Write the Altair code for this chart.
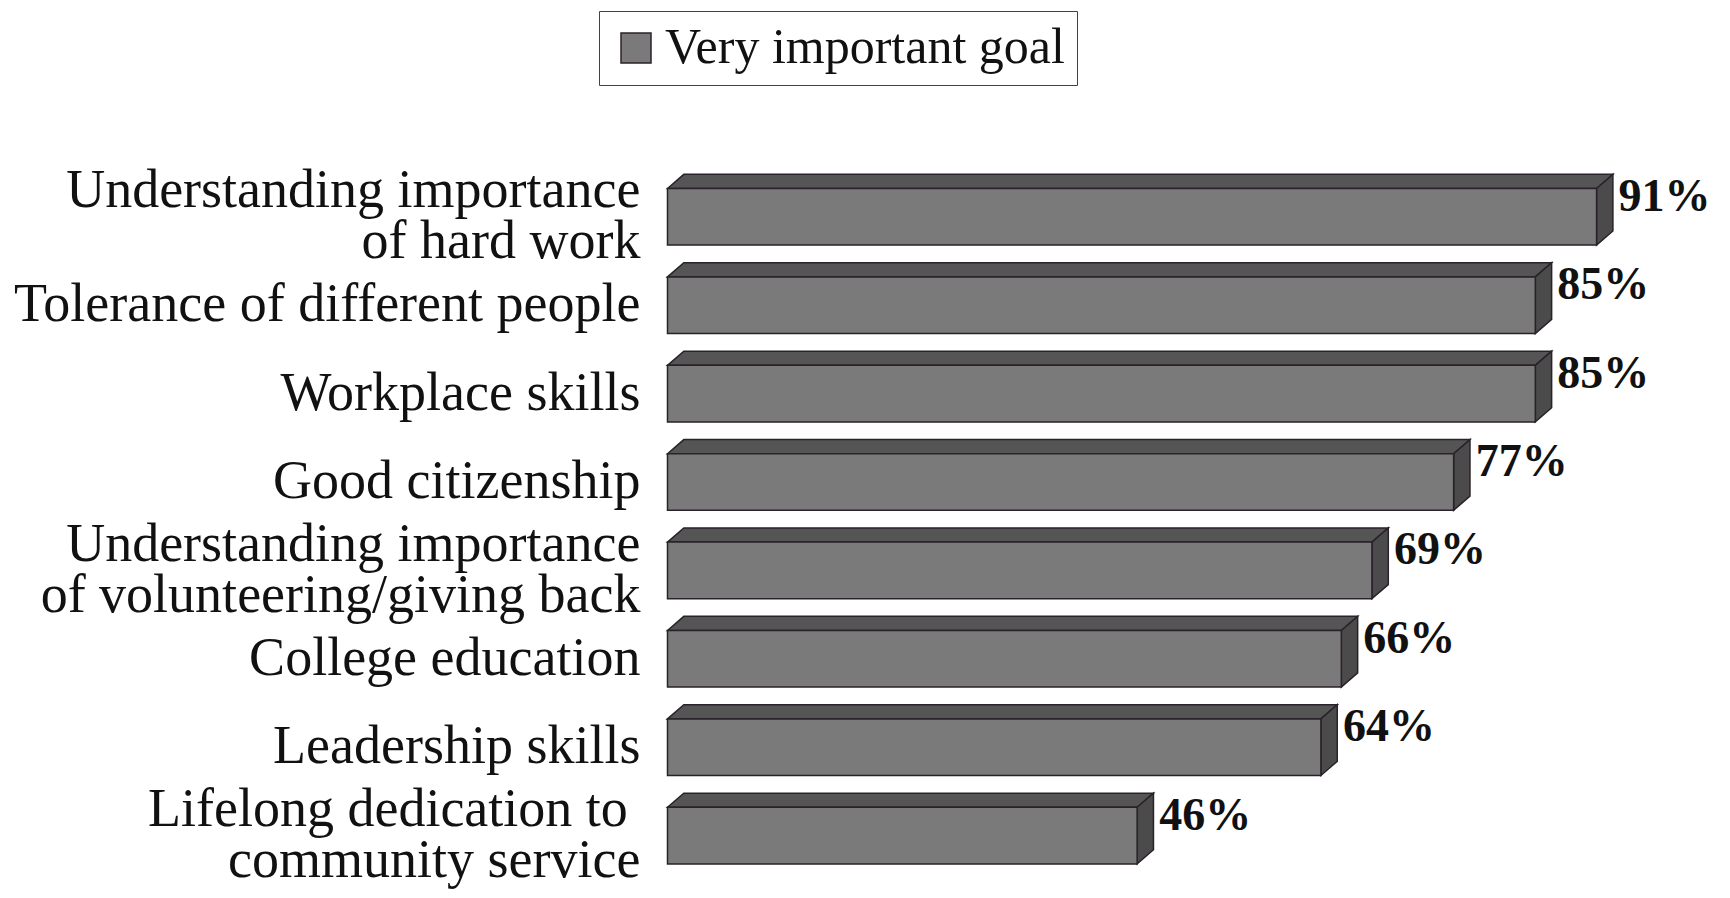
import altair as alt
import pandas as pd

categories = [
    "Understanding importance\nof hard work",
    "Tolerance of different people",
    "Workplace skills",
    "Good citizenship",
    "Understanding importance\nof volunteering/giving back",
    "College education",
    "Leadership skills",
    "Lifelong dedication to  \ncommunity service",
]
values = [91, 85, 85, 77, 69, 66, 64, 46]
series_name = "Very important goal"

# style constants (depth of the 3D effect in scale units)
H = 0.32     # half bar thickness (row units)
DX = 1.6     # depth in x (percent units)
DY = 0.16    # depth in y (row units)
LS = 0.58    # label line spacing (row units)
SPACE_W = 0.62  # width of a trailing space (percent units)

FONT = "Liberation Serif"
FRONT = "#7a7a7a"
TOP = "#555555"
SIDE = "#4b4b4b"
EDGE = "#2a222a"

df = pd.DataFrame({
    "category": categories,
    "value": values,
    "row": list(range(len(values))),
    "series": [series_name] * len(values),
})

label_rows = []
for r, c in enumerate(categories):
    lines = c.split("\n")
    n = len(lines)
    for j, line in enumerate(lines):
        trail = len(line) - len(line.rstrip(" "))
        label_rows.append({"row": r, "line": line.rstrip(" "), "trail": trail,
                           "off": (j - (n - 1) / 2) * LS})
label_df = pd.DataFrame(label_rows)

top_rows, side_rows = [], []
for r, v in enumerate(values):
    ft, fb = r - H, r + H
    for x, y, y2 in [(0, ft, ft), (DX, ft - DY, ft), (v, ft - DY, ft), (v + DX, ft - DY, ft - DY)]:
        top_rows.append({"row": r, "x": x, "y": y, "y2": y2})
    for x, y, y2 in [(v, ft, fb), (v + DX, ft - DY, fb - DY)]:
        side_rows.append({"row": r, "x": x, "y": y, "y2": y2})
top_df = pd.DataFrame(top_rows)
side_df = pd.DataFrame(side_rows)

xs = alt.Scale(domain=[-65.38, 104.07], nice=False, zero=False)
ys = alt.Scale(domain=[-2.4525, 7.706], nice=False, zero=False, reverse=True)

top = alt.Chart(top_df).mark_area(orient="vertical", fill=TOP, stroke=EDGE, strokeWidth=1.5, opacity=1).encode(
    x=alt.X("x:Q", scale=xs, axis=None),
    y=alt.Y("y:Q", scale=ys, axis=None, stack=False),
    y2="y2:Q",
    detail="row:N",
)
side = alt.Chart(side_df).mark_area(orient="vertical", fill=SIDE, stroke=EDGE, strokeWidth=1.5, opacity=1).encode(
    x=alt.X("x:Q", scale=xs, axis=None),
    y=alt.Y("y:Q", scale=ys, axis=None, stack=False),
    y2="y2:Q",
    detail="row:N",
)

front = alt.Chart(df).transform_calculate(
    zero="0", y1=f"datum.row - {H}", y2=f"datum.row + {H}"
).mark_rect(stroke=EDGE, strokeWidth=1.5, opacity=1).encode(
    x=alt.X("zero:Q", scale=xs, axis=None),
    x2="value:Q",
    y=alt.Y("y1:Q", scale=ys, axis=None),
    y2="y2:Q",
    color=alt.Color(
        "series:N",
        scale=alt.Scale(range=[FRONT]),
        legend=alt.Legend(
            title=None, orient="none", legendX=599, legendY=11,
            symbolType="square", symbolSize=900, symbolStrokeColor=EDGE,
            symbolStrokeWidth=1.5, symbolOpacity=1,
            labelFont=FONT, labelFontSize=50, labelColor="#111111",
            labelLimit=800, labelOffset=4, padding=12,
            strokeColor="#4a3c4a",
        ),
    ),
)

cat_text = alt.Chart(label_df).transform_calculate(
    xpos=f"-datum.trail * {SPACE_W}", ypos="datum.row + datum.off"
).mark_text(
    align="right", baseline="middle", dx=-27, font=FONT, fontSize=54,
    color="#111111",
).encode(
    x=alt.X("xpos:Q", scale=xs, axis=None),
    y=alt.Y("ypos:Q", scale=ys, axis=None),
    text="line:N",
)

val_text = alt.Chart(df).transform_calculate(lbl="datum.value + '%'").mark_text(
    align="left", baseline="middle", dx=22, dy=-20, font=FONT, fontSize=46,
    fontWeight="bold", color="#111111",
).encode(
    x=alt.X("value:Q", scale=xs, axis=None),
    y=alt.Y("row:Q", scale=ys, axis=None),
    text="lbl:N",
)

chart = alt.layer(top, side, front, cat_text, val_text).properties(
    width=1730, height=898, padding=0,
    autosize=alt.AutoSizeParams(type="none"),
    background="white",
).configure_view(strokeWidth=0)

chart.save("out.html", embed_options={"renderer": "svg", "actions": False})
